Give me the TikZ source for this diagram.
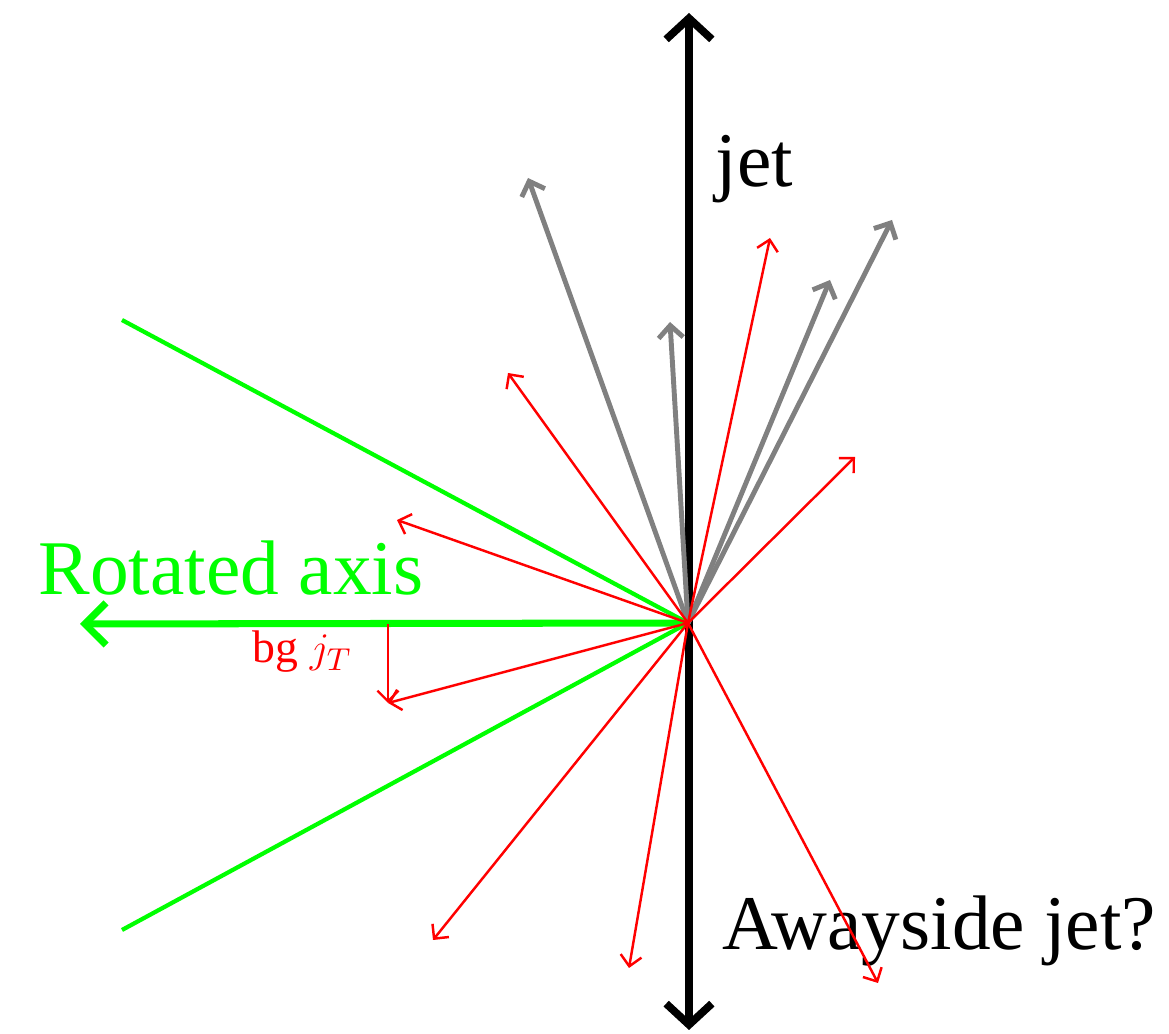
\documentclass[tikz,border=0pt]{standalone}
\usepackage{fontspec}
\setmainfont{Liberation Serif}
\usetikzlibrary{arrows.meta}

\begin{document}
\begin{tikzpicture}[x=0.01cm, y=-0.01cm,
  jetaxis/.style={black, line width=2.2pt,
    {Straight Barb[length=6pt,width=13pt]}-{Straight Barb[length=6pt,width=13pt]}},
  rotaxis/.style={green, line width=2pt, -{Straight Barb[length=6pt,width=12pt]}},
  cone/.style={green, line width=1.2pt},
  hard/.style={gray, line width=1.4pt, -{Straight Barb[length=3.5pt,width=7pt]}},
  soft/.style={red, line width=0.7pt, -{Straight Barb[length=3pt,width=6pt]}},
  label/.style={font=\fontsize{22}{24}\selectfont, anchor=base west, inner sep=0pt}]
  \useasboundingbox (0,0) rectangle (1169,1034);

  % centre and axis ends
  \coordinate (O) at (688,623);
  \coordinate (top) at (689,13);
  \coordinate (bot) at (689,1030);
  \coordinate (rot) at (80,624);
  \coordinate (conea) at (122,320);
  \coordinate (coneb) at (122,930);

  % Rotated axis and its cone
  \draw[cone] (conea) -- (O) -- (coneb);
  \draw[rotaxis] (O) -- (rot);
  \node[label, green] (rotlabel) at (38,595) {Rotated axis};

  % jet axis
  \draw[jetaxis] (bot) -- (top);
  \node[label] (jetlabel) at (715,187) {jet};
  \node[label] (awaylabel) at (722,950) {Awayside jet?};

  % jet particles (gray)
  \foreach \name/\pos in {g1/{(528,178)}, g2/{(670,322)}, g3/{(830,280)}, g4/{(892,220)}}
    \draw[hard] (O) -- \pos coordinate (\name);

  % background particles (red)
  \foreach \name/\pos in {r1/{(770,238)}, r2/{(508,373)}, r3/{(855,457)}, r4/{(397,520)},
                          r5/{(388,703)}, r6/{(433,940)}, r7/{(629,968)}, r8/{(878,983)}}
    \draw[soft] (O) -- \pos coordinate (\name);

  % jT of one background track
  \coordinate (foot) at (388,624);
  \draw[soft] (foot) -- (r5);
  \node[red, font=\fontsize{13}{15}\selectfont, anchor=base west, inner sep=0pt]
    (jtlabel) at (252,663) {bg $j_T$};
\end{tikzpicture}
\end{document}
